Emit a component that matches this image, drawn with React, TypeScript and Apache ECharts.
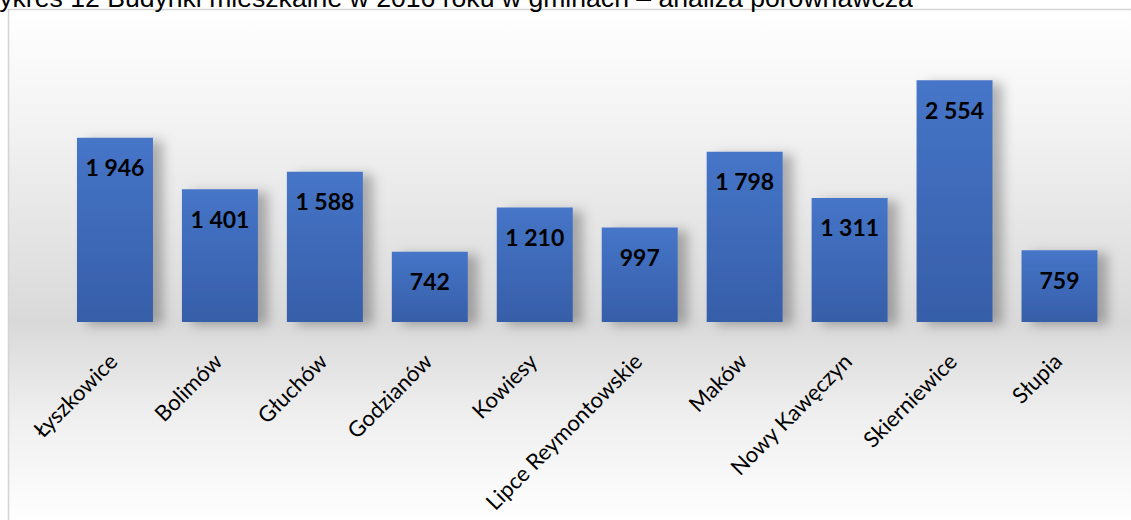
import React, { useEffect, useRef } from "react";
import * as echarts from "echarts";

const title = "Wykres 12 Budynki mieszkalne w 2016 roku w gminach – analiza porównawcza";
const categories = [
  "Łyszkowice",
  "Bolimów",
  "Głuchów",
  "Godzianów",
  "Kowiesy",
  "Lipce Reymontowskie",
  "Maków",
  "Nowy Kawęczyn",
  "Skierniewice",
  "Słupia",
];
const values = [1946, 1401, 1588, 742, 1210, 997, 1798, 1311, 2554, 759];

const fmt = (v: number) => String(v).replace(/\B(?=(\d{3})+(?!\d))/g, " ");

export default function App() {
  const ref = useRef<HTMLDivElement>(null);
  useEffect(() => {
    if (!ref.current) return;
    const chart = echarts.init(ref.current, null, { renderer: "svg" });
    chart.setOption({
      animation: false,
      backgroundColor: "#ffffff",
      graphic: [
        {
          type: "rect",
          z: -10,
          silent: true,
          shape: { x: 8.5, y: 9.5, width: 1130, height: 515 },
          style: {
            stroke: "#d4d4d4",
            lineWidth: 1.5,
            fill: new echarts.graphic.LinearGradient(0, 0, 0, 1, [
              { offset: 0, color: "#ffffff" },
              { offset: 0.2, color: "#f4f4f4" },
              { offset: 0.607, color: "#d9d9d9" },
              { offset: 0.8, color: "#f0f0f0" },
              { offset: 1, color: "#ffffff" },
            ]),
          },
        },
        {
          type: "text",
          z: 10,
          x: -25.6,
          y: -2,
          style: {
            text: title,
            font: "26.6px 'Liberation Sans', Arial, sans-serif",
            fill: "#000000",
            verticalAlign: "middle",
            align: "left",
          },
        },
      ],
      grid: { left: 62.5, right: 19, top: 38, bottom: 198, containLabel: false },
      xAxis: {
        type: "category",
        data: categories,
        axisLine: { show: false },
        axisTick: { show: false },
        splitLine: { show: false },
        axisLabel: {
          interval: 0,
          rotate: 45,
          margin: 33,
          padding: [0, 3, 0, 0],
          fontFamily: "Lato",
          fontSize: 22,
          color: "#000000",
        },
      },
      yAxis: {
        type: "value",
        min: 0,
        max: 3000,
        show: false,
        splitLine: { show: false },
      },
      series: [
        {
          type: "bar",
          data: values,
          barWidth: 76,
          itemStyle: {
            color: new echarts.graphic.LinearGradient(0, 0, 0, 1, [
              { offset: 0, color: "#4675c8" },
              { offset: 1, color: "#365ea8" },
            ]),
            shadowColor: "rgba(0,0,0,0.28)",
            shadowBlur: 12,
            shadowOffsetX: 10,
            shadowOffsetY: 3,
          },
          label: {
            show: true,
            position: "insideTop",
            distance: 18,
            formatter: (p: any) => fmt(p.value),
            fontFamily: "Lato",
            fontWeight: "bold",
            fontSize: 23,
            color: "#000000",
          },
        },
      ],
    });
    return () => chart.dispose();
  }, []);
  return (
    <div
      ref={ref}
      style={{ position: "fixed", left: 0, top: 0, width: 1131, height: 520 }}
    />
  );
}
